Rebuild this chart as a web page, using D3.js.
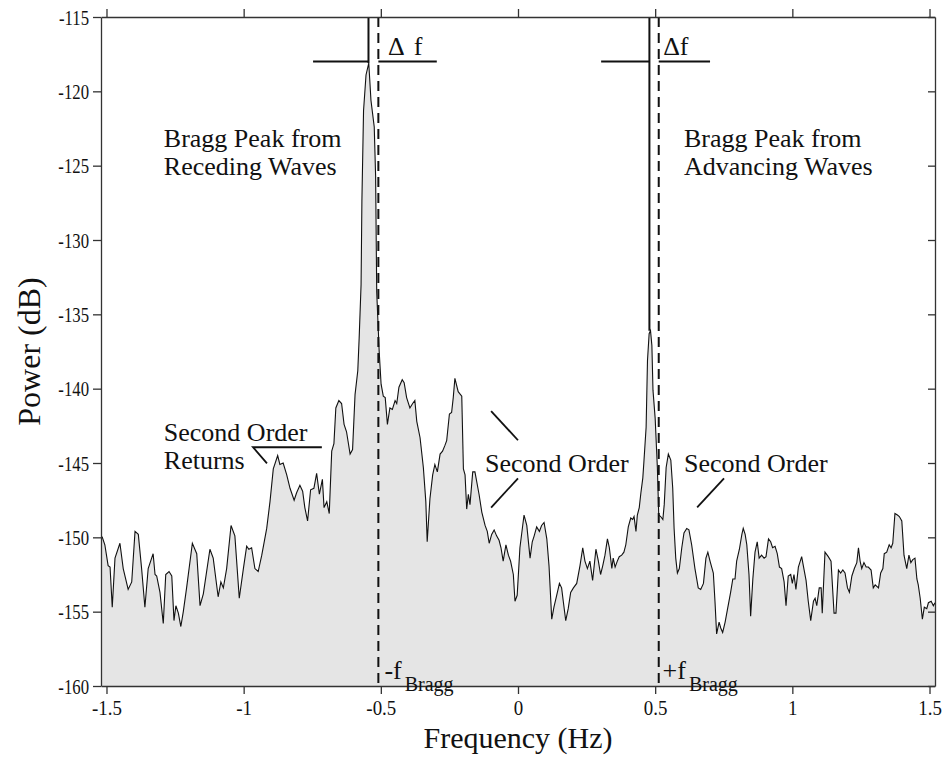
<!DOCTYPE html>
<html><head><meta charset="utf-8">
<script src="https://cdn.jsdelivr.net/npm/d3@7"></script>
<style>
body{margin:0;background:#fff;}
svg text{font-family:"Liberation Serif","Times New Roman",Times,serif;fill:#111;}
</style></head>
<body><svg id="c" width="946" height="757"></svg>
<script>
// ---- data ----
const freq = [-1.516,-1.506,-1.494,-1.487,-1.479,-1.469,-1.451,-1.439,-1.421,-1.408,-1.396,-1.384,-1.372,-1.360,-1.348,-1.330,-1.323,-1.317,-1.305,-1.293,-1.284,-1.272,-1.262,-1.254,-1.247,-1.238,-1.229,-1.220,-1.208,-1.187,-1.171,-1.159,-1.147,-1.123,-1.111,-1.093,-1.083,-1.074,-1.062,-1.046,-1.032,-1.016,-1.001,-0.989,-0.981,-0.971,-0.959,-0.947,-0.934,-0.916,-0.904,-0.892,-0.876,-0.868,-0.856,-0.843,-0.831,-0.816,-0.807,-0.795,-0.785,-0.777,-0.767,-0.756,-0.744,-0.734,-0.724,-0.713,-0.707,-0.697,-0.688,-0.679,-0.671,-0.664,-0.653,-0.643,-0.634,-0.625,-0.612,-0.603,-0.594,-0.584,-0.579,-0.572,-0.569,-0.563,-0.554,-0.544,-0.536,-0.524,-0.519,-0.515,-0.506,-0.499,-0.491,-0.484,-0.476,-0.467,-0.458,-0.448,-0.442,-0.434,-0.422,-0.415,-0.406,-0.394,-0.384,-0.376,-0.369,-0.357,-0.345,-0.336,-0.331,-0.321,-0.311,-0.303,-0.294,-0.284,-0.275,-0.266,-0.260,-0.250,-0.242,-0.236,-0.230,-0.218,-0.205,-0.199,-0.193,-0.187,-0.181,-0.175,-0.165,-0.157,-0.142,-0.132,-0.120,-0.112,-0.105,-0.096,-0.087,-0.078,-0.069,-0.062,-0.054,-0.044,-0.035,-0.027,-0.017,-0.011,-0.003,0.007,0.022,0.032,0.044,0.052,0.059,0.068,0.078,0.086,0.095,0.105,0.113,0.123,0.131,0.141,0.151,0.159,0.165,0.174,0.183,0.192,0.202,0.214,0.226,0.236,0.244,0.253,0.262,0.272,0.284,0.293,0.301,0.309,0.317,0.326,0.333,0.342,0.347,0.354,0.362,0.369,0.378,0.386,0.393,0.402,0.411,0.418,0.423,0.430,0.435,0.442,0.448,0.455,0.459,0.467,0.472,0.478,0.483,0.488,0.492,0.500,0.508,0.513,0.520,0.528,0.533,0.540,0.548,0.557,0.564,0.569,0.575,0.581,0.588,0.597,0.605,0.615,0.623,0.633,0.645,0.657,0.666,0.676,0.685,0.692,0.700,0.712,0.718,0.724,0.733,0.739,0.746,0.755,0.763,0.775,0.783,0.791,0.797,0.807,0.816,0.821,0.828,0.834,0.842,0.848,0.856,0.864,0.872,0.879,0.888,0.897,0.904,0.913,0.921,0.928,0.937,0.945,0.953,0.961,0.970,0.977,0.985,0.994,1.000,1.006,1.013,1.022,1.034,1.040,1.050,1.058,1.067,1.077,1.083,1.089,1.098,1.105,1.109,1.119,1.131,1.141,1.152,1.159,1.168,1.176,1.184,1.192,1.201,1.208,1.217,1.226,1.235,1.241,1.247,1.253,1.261,1.269,1.277,1.287,1.295,1.302,1.314,1.322,1.330,1.335,1.344,1.353,1.360,1.366,1.374,1.383,1.390,1.399,1.407,1.417,1.425,1.432,1.439,1.447,1.454,1.459,1.466,1.474,1.481,1.490,1.496,1.506,1.514,1.520];
const power = [-149.95,-150.5,-151.9,-152.0,-154.7,-151.4,-150.4,-152.1,-153.5,-153.0,-149.6,-149.8,-152.1,-154.7,-152.1,-151.1,-152.5,-152.6,-153.7,-155.8,-152.5,-152.3,-152.6,-155.6,-154.6,-155.1,-156.0,-155.0,-153.4,-150.4,-151.1,-154.6,-153.8,-150.8,-151.4,-154.0,-153.0,-153.4,-152.1,-149.2,-149.9,-154.1,-152.1,-150.6,-150.8,-150.7,-152.1,-152.3,-151.2,-149.4,-147.6,-145.4,-144.5,-145.1,-145.0,-145.8,-146.7,-147.5,-147.0,-146.5,-146.9,-148.0,-148.9,-146.8,-146.7,-145.7,-147.1,-146.1,-148.0,-147.6,-148.4,-144.2,-143.7,-141.3,-140.8,-141.0,-142.4,-142.9,-144.4,-144.1,-140.4,-138.8,-136.6,-133.0,-127.4,-121.3,-118.9,-118.1,-120.6,-122.4,-125.7,-133.5,-137.5,-139.7,-140.5,-140.6,-142.4,-141.3,-141.4,-140.8,-141.0,-139.9,-139.4,-139.6,-140.6,-141.3,-141.0,-140.8,-142.2,-143.3,-145.3,-147.6,-150.3,-147.4,-145.8,-145.1,-145.6,-144.4,-144.2,-143.8,-143.5,-141.7,-141.6,-140.6,-139.3,-140.2,-140.5,-145.4,-145.8,-148.1,-147.1,-147.8,-145.6,-145.6,-147.1,-148.3,-149.2,-149.6,-150.4,-149.8,-149.5,-149.9,-150.2,-150.7,-151.6,-150.5,-151.2,-151.6,-152.5,-154.3,-153.9,-150.7,-148.5,-149.2,-151.4,-150.3,-149.9,-149.3,-149.6,-149.2,-149.0,-150.1,-151.9,-155.5,-154.7,-153.9,-153.1,-153.4,-154.3,-155.6,-154.8,-153.7,-153.4,-153.1,-151.9,-150.7,-151.6,-152.1,-151.6,-152.9,-150.8,-151.6,-152.5,-151.9,-151.2,-150.1,-150.7,-152.1,-151.4,-152.0,-151.6,-151.3,-151.2,-151.0,-150.5,-149.3,-148.7,-148.8,-148.6,-149.6,-148.5,-148.0,-147.0,-146.0,-144.9,-142.6,-138.1,-136.3,-136.1,-137.1,-140.1,-142.0,-145.3,-148.5,-148.6,-148.8,-147.8,-145.3,-144.4,-144.8,-146.7,-149.4,-151.4,-152.4,-152.1,-150.7,-149.7,-149.4,-149.5,-150.5,-152.1,-153.4,-153.5,-153.1,-151.4,-151.0,-151.6,-152.4,-154.3,-156.5,-155.7,-156.1,-156.4,-155.7,-154.9,-153.7,-152.8,-152.8,-151.6,-150.8,-149.8,-149.4,-149.8,-150.5,-152.5,-155.3,-152.8,-151.0,-150.3,-151.4,-151.2,-151.4,-151.3,-150.1,-150.3,-150.7,-150.6,-151.1,-152.0,-152.1,-153.0,-154.6,-152.6,-152.5,-153.1,-152.5,-153.5,-152.0,-151.3,-151.9,-152.9,-154.3,-155.6,-154.3,-154.1,-154.6,-153.4,-153.4,-155.1,-151.0,-151.3,-151.6,-155.1,-155.1,-152.2,-152.4,-152.2,-152.4,-153.4,-153.7,-152.6,-152.1,-151.7,-150.7,-151.6,-152.1,-151.7,-152.0,-152.0,-152.2,-153.4,-153.2,-153.4,-152.4,-152.1,-151.1,-151.0,-150.5,-150.7,-150.4,-148.4,-148.5,-148.6,-148.9,-151.2,-152.1,-151.2,-151.7,-151.5,-151.4,-152.8,-153.2,-154.1,-155.5,-154.7,-154.8,-154.4,-154.3,-154.6,-154.4];
const xTicks = [-1.5,-1,-0.5,0,0.5,1,1.5];
const xTickLabels = ["-1.5","-1","-0.5","0","0.5","1","1.5"];
const yTicks = [-115,-120,-125,-130,-135,-140,-145,-150,-155,-160];
const yTickLabels = ["-115","-120","-125","-130","-135","-140","-145","-150","-155","-160"];
const braggFreq = [-0.509, 0.513];          // dashed +-f_Bragg
const peakFreq = [-0.545, 0.479];           // solid lines at observed peaks
const peakPower = [-118.1, -136.1];
const deltaLevel = -118.0;                  // level of the delta-f bars
const deltaLeftEnds = [-0.747, 0.303];      // left ends of the bars
const deltaRightEnds = [-0.296, 0.700];     // right ends of the bars

// ---- layout ----
const W = 946, H = 757;
const m = {l:101, r:11, t:17, b:71};
const svg = d3.select("#c");
const x = d3.scaleLinear().domain([-1.52, 1.52]).range([m.l, W - m.r]);
const y = d3.scaleLinear().domain([-160, -115]).range([H - m.b, m.t]);
const data = freq.map((f,i)=>({f, p: power[i]}));

// area
svg.append("path").datum(data)
  .attr("d", d3.area().x(d=>x(d.f)).y0(y(-160)).y1(d=>y(d.p)))
  .attr("fill","#e5e5e5");
svg.append("path").datum(data)
  .attr("d", d3.line().x(d=>x(d.f)).y(d=>y(d.p)))
  .attr("fill","none").attr("stroke","#111").attr("stroke-width",1.1);

// dashed bragg lines
braggFreq.forEach(f=>{
  svg.append("line").attr("x1",x(f)).attr("x2",x(f)).attr("y1",y(-115)).attr("y2",y(-160))
    .attr("stroke","#111").attr("stroke-width",2).attr("stroke-dasharray","10,6");
});
// solid peak lines
peakFreq.forEach((f,i)=>{
  svg.append("line").attr("x1",x(f)).attr("x2",x(f)).attr("y1",y(-115)).attr("y2",y(peakPower[i]))
    .attr("stroke","#111").attr("stroke-width",2);
});
// delta f bars
[0,1].forEach(i=>{
  svg.append("line").attr("x1",x(deltaLeftEnds[i])).attr("x2",x(peakFreq[i]))
    .attr("y1",y(deltaLevel)).attr("y2",y(deltaLevel)).attr("stroke","#111").attr("stroke-width",2);
  svg.append("line").attr("x1",x(braggFreq[i])).attr("x2",x(deltaRightEnds[i]))
    .attr("y1",y(deltaLevel)).attr("y2",y(deltaLevel)).attr("stroke","#111").attr("stroke-width",2);
});

// axes
const fmtX = d => xTickLabels[xTicks.indexOf(d)];
const fmtY = d => yTickLabels[yTicks.indexOf(d)];
const gB = svg.append("g").attr("transform",`translate(0,${y(-160)})`)
  .call(d3.axisBottom(x).tickValues(xTicks).tickFormat(fmtX).tickSize(8).tickPadding(6).tickSizeOuter(0));
const gT = svg.append("g").attr("transform",`translate(0,${y(-115)})`)
  .call(d3.axisTop(x).tickValues(xTicks).tickFormat("").tickSize(8).tickSizeOuter(0));
const gL = svg.append("g").attr("transform",`translate(${x(-1.52)},0)`)
  .call(d3.axisLeft(y).tickValues(yTicks).tickFormat(fmtY).tickSize(8).tickPadding(4).tickSizeOuter(0));
const gR = svg.append("g").attr("transform",`translate(${x(1.52)},0)`)
  .call(d3.axisLeft(y).tickValues(yTicks).tickFormat("").tickSize(7).tickSizeOuter(0));
[gB,gT,gL,gR].forEach(g=>{
  g.attr("font-family",null);
  g.selectAll("path").attr("stroke","#333").attr("stroke-width",1.3);
  g.selectAll("line").attr("stroke","#333").attr("stroke-width",1.3);
  g.selectAll("text").attr("font-size",22).attr("fill","#111");
});
gB.selectAll("text").attr("font-size",21);
// condensed tick label look of the original
gL.selectAll(".tick text").each(function(){
  const n = this.getComputedTextLength();
  d3.select(this).attr("textLength", n*0.76).attr("lengthAdjust","spacingAndGlyphs");
});
gB.selectAll(".tick text").each(function(){
  const n = this.getComputedTextLength();
  d3.select(this).attr("textLength", n*0.9).attr("lengthAdjust","spacingAndGlyphs");
});

// axis titles
svg.append("text").attr("x",(x(-1.52)+x(1.52))/2).attr("y",748).attr("text-anchor","middle")
  .attr("font-size",30).text("Frequency (Hz)");
svg.append("text").attr("transform",`translate(40,${(y(-115)+y(-160))/2}) rotate(-90)`)
  .attr("text-anchor","middle").attr("font-size",32).text("Power (dB)");

// annotations (in data coordinates)
const notes = [
  {f:-1.291, p:-123.77, t:"Bragg Peak from"},
  {f:-1.291, p:-125.66, t:"Receding Waves"},
  {f:0.605, p:-123.77, t:"Bragg Peak from"},
  {f:0.605, p:-125.66, t:"Advancing Waves"},
  {f:-1.291, p:-143.54, t:"Second Order"},
  {f:-1.291, p:-145.43, t:"Returns"},
  {f:-0.120, p:-145.63, t:"Second Order"},
  {f:0.605, p:-145.63, t:"Second Order"}
];
notes.forEach(n=>svg.append("text").attr("x",x(n.f)).attr("y",y(n.p)).attr("font-size",26).text(n.t));

// delta-f labels
const dl = svg.append("text").attr("x",x(-0.474)).attr("y",y(-117.55)).attr("font-size",26);
dl.append("tspan").text("\u0394");
dl.append("tspan").attr("dx",9).text("f");
svg.append("text").attr("x",x(0.529)).attr("y",y(-117.55)).attr("font-size",26).text("\u0394f");

const fb = [{f:-0.487, s:"-f"},{f:0.527, s:"+f"}];
fb.forEach(n=>{
  const t = svg.append("text").attr("x",x(n.f)).attr("y",y(-159.55)).attr("font-size",26);
  t.append("tspan").text(n.s);
  t.append("tspan").attr("font-size",20).attr("dx",3).attr("dy",12).text("Bragg");
});

const pointers = [
  [[-0.715,-143.94],[-0.966,-143.94],[-0.915,-145.02]],
  [[-0.098,-141.51],[0.000,-143.47]],
  [[0.000,-146.03],[-0.098,-148.0]],
  [[0.751,-146.03],[0.653,-147.99]]
];
pointers.forEach(pts=>{
  svg.append("path").attr("d", d3.line().x(d=>x(d[0])).y(d=>y(d[1]))(pts))
    .attr("fill","none").attr("stroke","#111").attr("stroke-width",1.8);
});
</script></body></html>
